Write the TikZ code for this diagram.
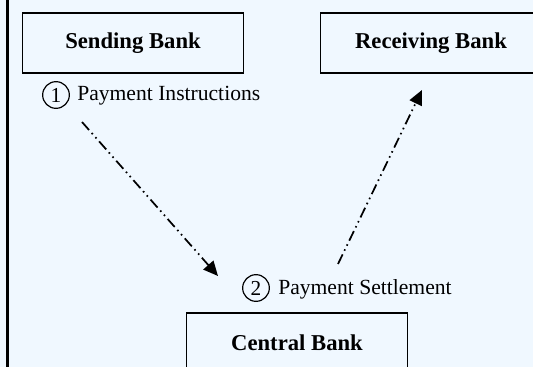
\documentclass[tikz,border=0pt]{standalone}
\usepackage{fontspec}
\setmainfont{Liberation Serif}
\usetikzlibrary{arrows.meta}

\tikzset{
	bank/.style = {draw, line width=1.2pt, minimum width=165.75pt, minimum height=45pt, inner sep=0pt, font=\fontsize{17}{19}\selectfont\bfseries},
	stepno/.style = {draw, circle, line width=0.9pt, minimum size=20pt, inner sep=0pt, font=\fontsize{16}{18}\selectfont},
	steptext/.style = {anchor=west, inner sep=0pt, font=\fontsize{16.2}{19}\selectfont},
	flow/.style = {line width=1.3pt, dash pattern=on 8pt off 3pt on 1.2pt off 3pt on 1.2pt off 3pt, -{Triangle[length=11pt,width=10pt]}}
}

\begin{document}
\begin{tikzpicture}[x=0.75pt, y=-0.75pt]
	\fill [color={rgb,255:red,240;green,248;blue,255}] (0,0) rectangle (533,367);
	\useasboundingbox (0,0) rectangle (533,367);
	\clip (0,0) rectangle (533,367);
	\draw [line width=1.8pt] (7.5,0) -- (7.5,367);
	% banks
	\node [bank] (sending) at (133,43) {Sending Bank};
	\node [bank] (receiving) at (431,43) {Receiving Bank};
	\node [bank] (central) at (297,343) {Central Bank};
	% steps
	\node [stepno] (one) at (56,95) {1};
	\node [steptext] (instr) at (77,96) {Payment Instructions};
	\node [stepno] (two) at (256,288) {2};
	\node [steptext] (settle) at (278,289) {Payment Settlement};
	% flows
	\coordinate (a1) at (82,122);
	\coordinate (a2) at (218,276);
	\coordinate (b1) at (338,264);
	\coordinate (b2) at (422,90);
	\draw [flow] (a1) -- (a2);
	\draw [flow] (b1) -- (b2);
\end{tikzpicture}
\end{document}
